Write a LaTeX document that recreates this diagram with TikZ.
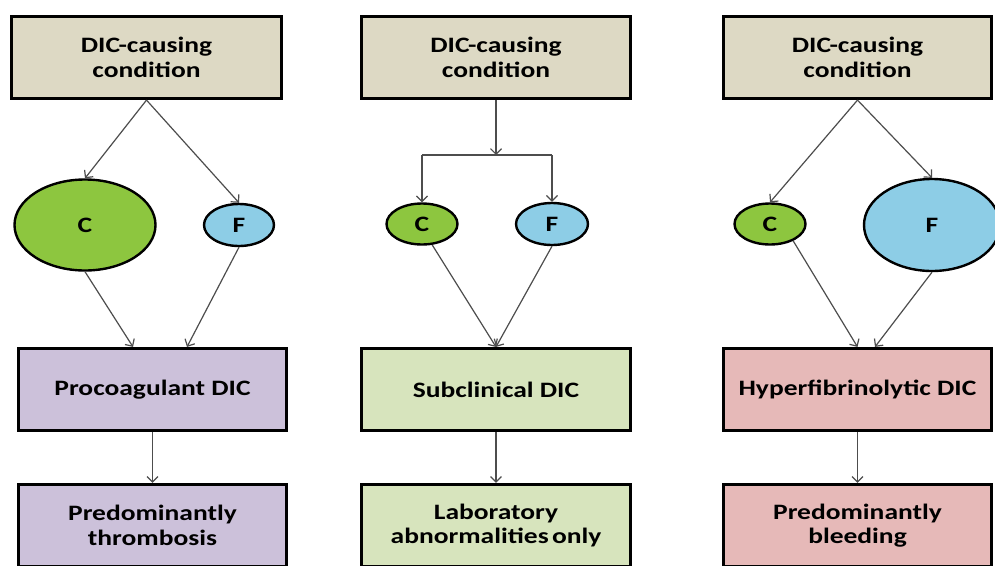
\documentclass[tikz,border=0pt]{standalone}
\usepackage{fontspec}
\setmainfont{Carlito}[FakeStretch=1.25]
\usetikzlibrary{shapes.geometric,arrows.meta,calc}
\definecolor{beige}{HTML}{DDD9C4}
\definecolor{lav}{HTML}{CCC1DA}
\definecolor{lgreen}{HTML}{D7E4BD}
\definecolor{lpink}{HTML}{E6B9B8}
\definecolor{cgreen}{HTML}{8DC63F}
\definecolor{fblue}{HTML}{8DCDE6}
\definecolor{arrgray}{HTML}{4D4D4D}
\begin{document}
\begin{tikzpicture}[x=1pt,y=-1pt,
  box/.style={draw=black, line width=3.2pt, minimum height=82pt, inner sep=0pt,
    align=center, font=\fontsize{22}{24.5}\selectfont\bfseries},
  oval/.style={ellipse, draw=black, line width=2.4pt, inner sep=0pt,
    font=\fontsize{22}{24.5}\selectfont\bfseries},
  conn/.style={draw=arrgray, line width=1.2pt},
  arr/.style={conn, -{Straight Barb[length=5.5pt,width=11pt]}}]
\useasboundingbox (0,0) rectangle (995,565);
\fill[white] (0,0) rectangle (995,565);
\clip (0,0) rectangle (995,565);

% column 1
\node[box, fill=beige, minimum width=270pt] (t1) at (146.5,57.5) {DIC-causing\\condition};
\node[oval, fill=cgreen, minimum width=141pt, minimum height=91pt] (c1) at (85,225) {C};
\node[oval, fill=fblue, minimum width=70pt, minimum height=42pt] (f1) at (239,225) {F};
\node[box, fill=lav, minimum width=268pt] (m1) at (152.5,389.5) {Procoagulant DIC};
\node[box, fill=lav, minimum width=268pt] (b1) at (152.5,525.5) {Predominantly\\thrombosis};

% column 2
\node[box, fill=beige, minimum width=269pt] (t2) at (496,57.5) {DIC-causing\\condition};
\coordinate (j2) at (496,155);
\node[oval, fill=cgreen, minimum width=71pt, minimum height=41pt] (c2) at (422,224) {C};
\node[oval, fill=fblue, minimum width=72pt, minimum height=42pt] (f2) at (552,224) {F};
\node[box, fill=lgreen, minimum width=269pt] (m2) at (496,389.5) {Subclinical DIC};
\node[box, fill=lgreen, minimum width=269pt] (b2) at (496,525.5) {Laboratory\\abnormalities\hspace{0.15em}only};

% column 3
\node[box, fill=beige, minimum width=268pt] (t3) at (857.5,57.5) {DIC-causing\\condition};
\node[oval, fill=cgreen, minimum width=71pt, minimum height=41pt] (c3) at (770,224) {C};
\node[oval, fill=fblue, minimum width=136pt, minimum height=92pt] (f3) at (932,225) {F};
\node[box, fill=lpink, minimum width=268pt] (m3) at (857.5,389.5) {Hyperfibrinolytic DIC};
\node[box, fill=lpink, minimum width=268pt] (b3) at (857.5,525.5) {Predominantly\\bleeding};

% connectors column 1
\draw[arr] (t1.south) -- (c1.north);
\draw[arr] (t1.south) -- (f1.north);
\draw[arr] (c1.south) -- ([xshift=-19.5pt]m1.north);
\draw[arr] (f1.south) -- ([xshift=34.5pt]m1.north);
\draw[arr] (m1.south) -- (b1.north);

% connectors column 2
\draw[arr] (t2.south) -- (j2);
\draw[conn] (c2 |- j2) -- (f2 |- j2);
\draw[arr] (c2 |- j2) -- (c2.north);
\draw[arr] (f2 |- j2) -- (f2.north);
\draw[arr] (c2.-64) -- (m2.north);
\draw[arr] (f2.south) -- (m2.north);
\draw[arr] (m2.south) -- (b2.north);

% connectors column 3
\draw[arr] (t3.south) -- (c3.north);
\draw[arr] (t3.south) -- (f3.north);
\draw[arr] (c3.-36) -- (m3.north);
\draw[arr] (f3.south) -- ([xshift=17.5pt]m3.north);
\draw[arr] (m3.south) -- (b3.north);
\end{tikzpicture}
\end{document}
